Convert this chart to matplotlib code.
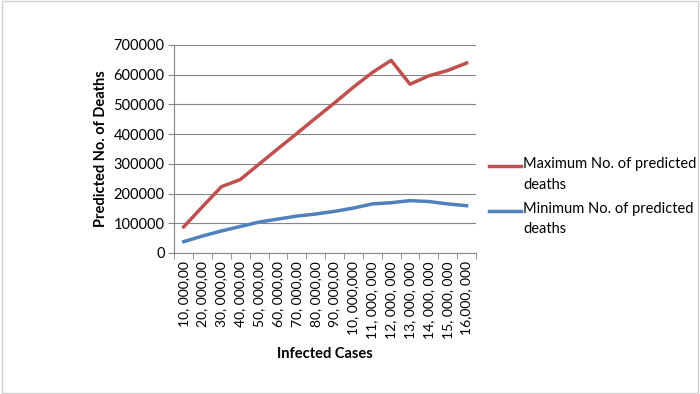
import matplotlib
matplotlib.use("Agg")
import matplotlib.pyplot as plt
from matplotlib.patches import Rectangle
from matplotlib.legend_handler import HandlerLine2D
import numpy as np

plt.rcParams['font.family'] = ['Lato', 'DejaVu Sans']

categories = ["10, 000,00", "20, 000,00", "30, 000,00", "40, 000,00", "50, 000,00",
              "60, 000,00", "70, 000,00", "80, 000,00", "90, 000,00", "10, 000,000",
              "11, 000, 000", "12, 000, 000", "13, 000, 000", "14, 000, 000",
              "15, 000, 000", "16,000, 000"]
max_deaths = [88000, 156000, 223000, 247000, 299000, 351000, 402000, 454000,
              505000, 558000, 607000, 648000, 568000, 596000, 614000, 639000]
min_deaths = [38000, 57000, 74000, 89000, 104000, 114000, 124000, 131000,
              140000, 151000, 165000, 169000, 176000, 173000, 165000, 159000]
yticks = [0, 100000, 200000, 300000, 400000, 500000, 600000, 700000]


class UpHandler(HandlerLine2D):
    def create_artists(self, legend, orig_handle, xdescent, ydescent, width,
                       height, fontsize, trans):
        arts = super().create_artists(legend, orig_handle, xdescent, ydescent,
                                      width, height, fontsize, trans)
        for a in arts:
            a.set_ydata(np.asarray(a.get_ydata()) + 0.62 * fontsize)
        return arts


fig = plt.figure(figsize=(7.0, 3.94), dpi=100)
fig.patches.append(Rectangle((0.003, 0.003), 0.994, 0.994, transform=fig.transFigure,
                             fill=False, edgecolor='#d0d0d0', linewidth=1))
ax = fig.add_axes([0.249, 0.358, 0.431, 0.528])

x = np.arange(len(categories))
l1, = ax.plot(x, max_deaths, color='#c0504d', linewidth=2.5, label='Maximum No. of predicted\ndeaths')
l2, = ax.plot(x, min_deaths, color='#4f81bd', linewidth=2.5, label='Minimum No. of predicted\ndeaths')

ax.set_xlim(-0.5, len(categories) - 0.5)
ax.set_ylim(0, 700000)
ax.set_yticks(yticks)
ax.set_yticklabels([str(v) for v in yticks], fontsize=10.5)
ax.set_xticks(x)
ax.set_xticklabels(categories, rotation=90, fontsize=10)
ax.tick_params(axis='x', length=0, pad=6)
ax.set_xticks(np.arange(-0.5, len(categories)), minor=True)
ax.tick_params(axis='x', which='minor', length=4, color='#868686')
ax.tick_params(axis='y', length=4, color='#868686', pad=3)

ax.grid(axis='y', color='#868686', linewidth=0.8)
ax.set_axisbelow(True)
for s in ['top', 'right']:
    ax.spines[s].set_visible(False)
for s in ['left', 'bottom']:
    ax.spines[s].set_color('#868686')

ax.set_ylabel('Predicted No. of Deaths', fontsize=10.5, fontweight='bold', labelpad=4)
ax.set_xlabel('Infected Cases', fontsize=10.5, fontweight='bold', labelpad=6)

leg = ax.legend(handles=[l1, l2], loc='center left', bbox_to_anchor=(1.0, 0.27),
                frameon=False, fontsize=10.5, handlelength=2.2, handletextpad=0.15,
                labelspacing=0.7, handler_map={l1: UpHandler(), l2: UpHandler()})
for t in leg.get_texts():
    t.set_linespacing(1.6)

fig.savefig('out.png', dpi=100)
